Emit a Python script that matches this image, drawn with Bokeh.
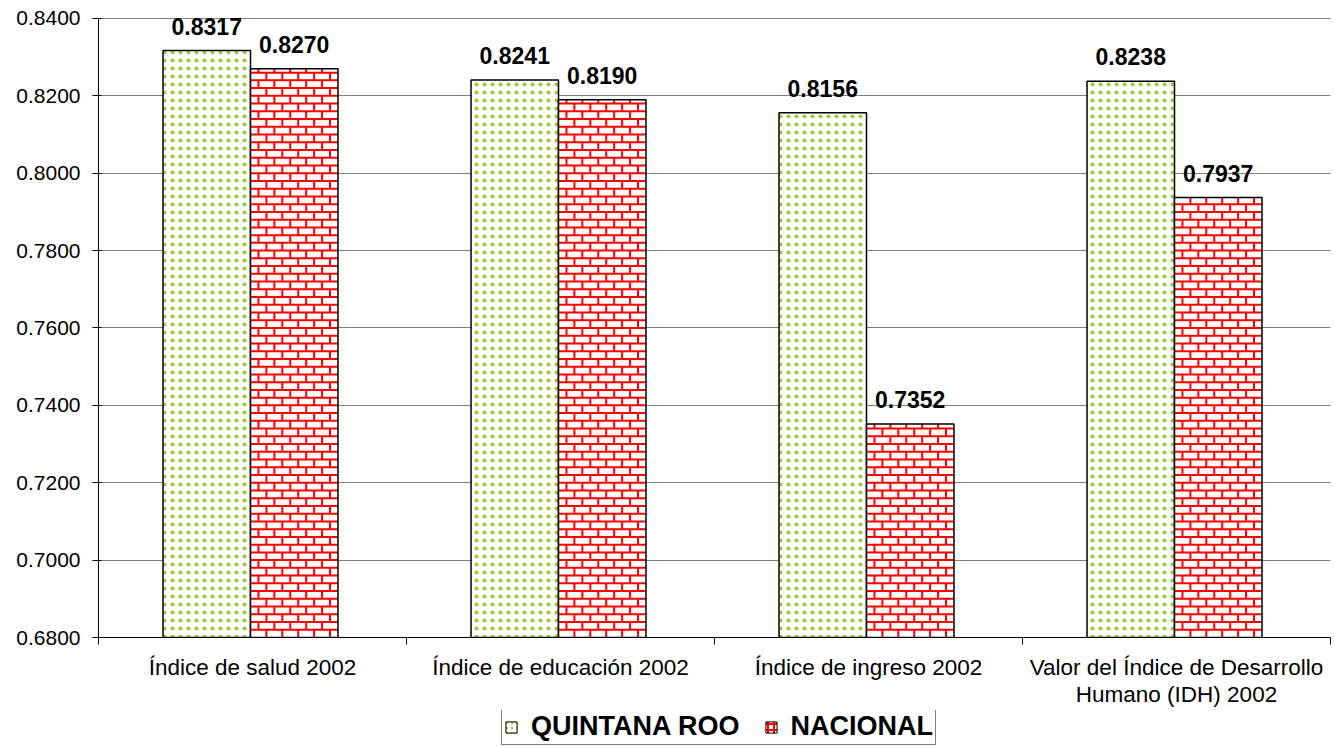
from bokeh.plotting import figure
from bokeh.layouts import column
from bokeh.models import (ColumnDataSource, Range1d, LinearAxis, FixedTicker,
                          NumeralTickFormatter, LabelSet, Legend, LegendItem)
from bokeh.core.properties import value
from bokeh.transform import dodge
from bokeh.embed import file_html
from bokeh.resources import INLINE

categories = ["Índice de salud 2002", "Índice de educación 2002",
              "Índice de ingreso 2002",
              "Valor del Índice de Desarrollo\nHumano (IDH) 2002"]
quintana_roo = [0.8317, 0.8241, 0.8156, 0.8238]
nacional = [0.8270, 0.8190, 0.7352, 0.7937]
y_ticks = [0.68, 0.70, 0.72, 0.74, 0.76, 0.78, 0.80, 0.82, 0.84]
series_names = ["QUINTANA ROO", "NACIONAL"]

Y0 = y_ticks[0]
Y1 = y_ticks[-1]
# a little head-room above the top tick so that the data labels are not clipped
Y_END = Y1 + (Y1 - Y0) * 10 / 621

xc = [i + 0.5 for i in range(len(categories))]
src = ColumnDataSource(dict(
    xc=xc, qr=quintana_roo, nac=nacional,
    qr_lab=[f"{v:.4f}" for v in quintana_roo],
    nac_lab=[f"{v:.4f}" for v in nacional],
))

W = 0.284
OFF_QR = -0.1485
OFF_NAC = 0.1355
ROW_H = 0.002
BRICK_W = W / 5.5

# brick texture lines for the NACIONAL bars, derived from the bar extents
bx, by = [], []
for c, top in zip(xc, nacional):
    x0, x1 = c + OFF_NAC - W / 2, c + OFF_NAC + W / 2
    k = 0
    y = Y0
    while y < top:
        y_next = min(y + ROW_H, top)
        if y_next < top:
            bx.append([x0, x1]); by.append([y_next, y_next])
        xv = x0 + (BRICK_W / 2 if k % 2 else BRICK_W)
        while xv < x1 - 0.004:
            bx.append([xv, xv]); by.append([y, y_next])
            xv += BRICK_W
        y = y_next
        k += 1
brick_src = ColumnDataSource(dict(xs=bx, ys=by))

FONT = "Liberation Sans"
p = figure(width=1333, height=710, output_backend="svg", toolbar_location=None,
           x_range=Range1d(0, len(categories)), y_range=Range1d(Y0, Y_END),
           x_axis_type=None, min_border_left=98, min_border_top=8,
           min_border_right=3, min_border_bottom=69)
p.outline_line_color = None
p.background_fill_color = "white"
p.xgrid.visible = False

p.yaxis.ticker = FixedTicker(ticks=y_ticks)
p.yaxis.bounds = (Y0, Y1)
p.yaxis.formatter = NumeralTickFormatter(format="0.0000")
p.yaxis.major_label_text_font = FONT
p.yaxis.major_label_text_font_size = "21px"
p.yaxis.major_label_text_color = "black"
p.yaxis.major_tick_in = 3
p.yaxis.major_tick_out = 6
p.yaxis.minor_tick_line_color = None
p.yaxis.axis_line_color = "black"
p.yaxis.major_tick_line_color = "black"
p.yaxis.major_label_standoff = 12
p.ygrid.ticker = FixedTicker(ticks=y_ticks)
p.ygrid.grid_line_color = "#808080"
p.ygrid.grid_line_width = 1

xaxis = LinearAxis(ticker=FixedTicker(ticks=xc, minor_ticks=list(range(len(categories) + 1))),
                   major_label_overrides={x: c for x, c in zip(xc, categories)})
xaxis.major_tick_line_color = None
xaxis.major_tick_in = 0
xaxis.major_tick_out = 7
xaxis.minor_tick_line_color = "black"
xaxis.minor_tick_in = 0
xaxis.minor_tick_out = 7
xaxis.axis_line_color = "black"
xaxis.major_label_text_font = FONT
xaxis.major_label_text_font_size = "22.5px"
xaxis.major_label_text_line_height = 1.1
xaxis.major_label_text_color = "black"
xaxis.major_label_standoff = 10
p.add_layout(xaxis, "below")

QR_STYLE = dict(fill_color="white", line_color="black",
                hatch_pattern="dot", hatch_color="#9acd32", hatch_weight=1.5)

p.vbar(x=dodge("xc", OFF_QR), top="qr", bottom=Y0, width=W, source=src,
       line_width=1.5, hatch_scale=8, **QR_STYLE)
p.vbar(x=dodge("xc", OFF_NAC), top="nac", bottom=Y0, width=W, source=src,
       fill_color="white", line_color=None)
p.multi_line(xs="xs", ys="ys", source=brick_src, line_color="#ff0000", line_width=2)
p.vbar(x=dodge("xc", OFF_NAC), top="nac", bottom=Y0, width=W, source=src,
       fill_color=None, line_color="black", line_width=1.5)

for fld, lab, off in (("qr", "qr_lab", OFF_QR), ("nac", "nac_lab", OFF_NAC)):
    ls = LabelSet(x=dodge("xc", off), y=fld, text=lab, source=src,
                  text_align="center", text_baseline="bottom", y_offset=16,
                  text_font=value(FONT), text_font_style="bold",
                  text_font_size="23px", text_color="black")
    p.add_layout(ls)

# legend strip (its swatch renderers are hidden; only the legend is shown)
lf = figure(width=1333, height=36, output_backend="svg", toolbar_location=None,
            x_range=Range1d(0, len(categories)), y_range=Range1d(Y0, Y1),
            x_axis_type=None, y_axis_type=None, min_border=0)
lf.outline_line_color = None
lf.xgrid.visible = False
lf.ygrid.visible = False
l_qr = lf.vbar(x=dodge("xc", OFF_QR), top="qr", bottom=Y0, width=W, source=src,
               line_width=1, hatch_scale=5, visible=False, **QR_STYLE)
l_nac = lf.vbar(x=dodge("xc", OFF_NAC), top="nac", bottom=Y0, width=W, source=src,
                fill_color="white", line_color="black", line_width=1,
                hatch_pattern="cross", hatch_color="red", hatch_scale=6, hatch_weight=2,
                visible=False)
legend = Legend(items=[LegendItem(label=series_names[0], renderers=[l_qr]),
                       LegendItem(label=series_names[1], renderers=[l_nac])],
                orientation="horizontal", location=(403, 1),
                label_text_font=FONT, label_text_font_style="bold",
                label_text_font_size="27px", label_text_color="black",
                label_text_line_height=1.1,
                border_line_color="black", border_line_width=1,
                glyph_width=14, glyph_height=14, spacing=24, padding=2,
                label_standoff=13, margin=0, background_fill_color="white",
                inactive_fill_alpha=0.0)
lf.add_layout(legend)

open("out.html", "w").write(file_html(column(p, lf, spacing=0), INLINE))
